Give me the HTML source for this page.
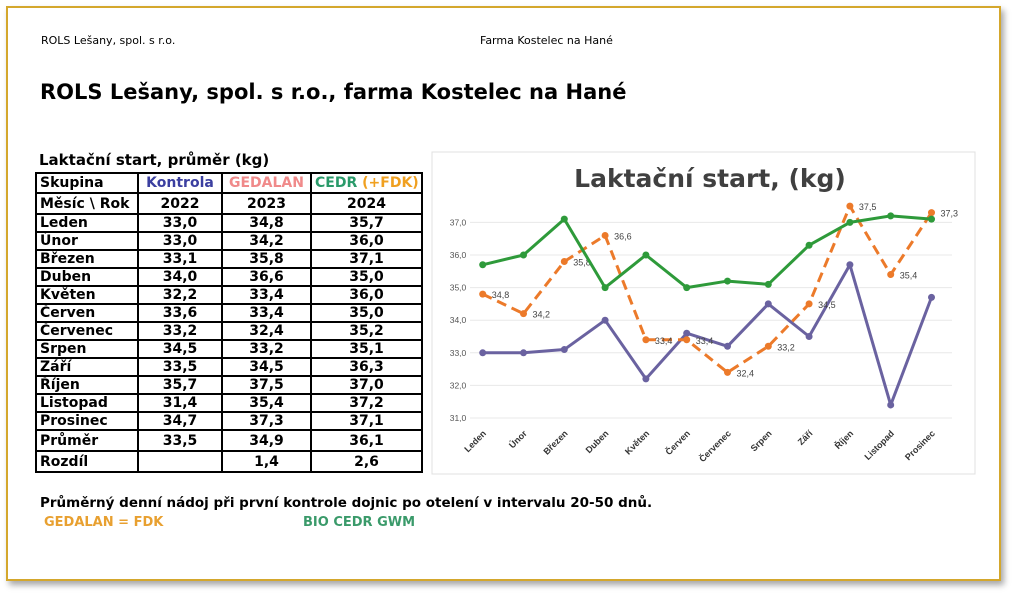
<!DOCTYPE html>
<html><head><meta charset="utf-8"><style>
body{margin:0;width:1024px;height:598px;background:#fff;position:relative;overflow:hidden;font-family:"DejaVu Sans","Liberation Sans",sans-serif;}
.frame{position:absolute;left:6px;top:6px;width:995px;height:575px;border:2px solid #d4a72c;box-shadow:3px 4px 6px rgba(0,0,0,0.35);box-sizing:border-box;}
.t{position:absolute;white-space:nowrap;}
table{position:absolute;left:35px;top:172px;width:386px;table-layout:fixed;border-collapse:collapse;border:2px solid #000;font-family:"DejaVu Sans","Liberation Sans",sans-serif;font-weight:bold;font-size:14px;}
td{border:2px solid #000;padding:0 3px;height:14px;line-height:14px;text-align:center;overflow:hidden;white-space:nowrap;}
td:first-child{text-align:left;}
</style></head><body>
<div class="frame"></div>
<div class="t" style="left:41px;top:34px;font-size:11px;">ROLS Lešany, spol. s r.o.</div>
<div class="t" style="left:480px;top:34px;font-size:11px;">Farma Kostelec na Hané</div>
<div class="t" style="left:40px;top:80px;font-size:21px;font-weight:bold;">ROLS Lešany, spol. s r.o., farma Kostelec na Hané</div>
<div class="t" style="left:39px;top:151px;font-size:15px;font-weight:bold;">Laktační start, průměr (kg)</div>
<table>
<colgroup><col style="width:102px"><col style="width:84px"><col style="width:89px"><col style="width:111px"></colgroup>
<tr style="height:20px"><td>Skupina</td><td style="color:#3b3fa0">Kontrola</td><td style="color:#f08a8a">GEDALAN</td><td><span style="color:#2a9a6a">CEDR</span> <span style="color:#f0a020">(+FDK)</span></td></tr>
<tr style="height:21px"><td>Měsíc \ Rok</td><td>2022</td><td>2023</td><td>2024</td></tr>
<tr style="height:18px"><td>Leden</td><td>33,0</td><td>34,8</td><td>35,7</td></tr>
<tr style="height:18px"><td>Únor</td><td>33,0</td><td>34,2</td><td>36,0</td></tr>
<tr style="height:18px"><td>Březen</td><td>33,1</td><td>35,8</td><td>37,1</td></tr>
<tr style="height:18px"><td>Duben</td><td>34,0</td><td>36,6</td><td>35,0</td></tr>
<tr style="height:18px"><td>Květen</td><td>32,2</td><td>33,4</td><td>36,0</td></tr>
<tr style="height:18px"><td>Červen</td><td>33,6</td><td>33,4</td><td>35,0</td></tr>
<tr style="height:18px"><td>Červenec</td><td>33,2</td><td>32,4</td><td>35,2</td></tr>
<tr style="height:18px"><td>Srpen</td><td>34,5</td><td>33,2</td><td>35,1</td></tr>
<tr style="height:18px"><td>Září</td><td>33,5</td><td>34,5</td><td>36,3</td></tr>
<tr style="height:18px"><td>Říjen</td><td>35,7</td><td>37,5</td><td>37,0</td></tr>
<tr style="height:18px"><td>Listopad</td><td>31,4</td><td>35,4</td><td>37,2</td></tr>
<tr style="height:18px"><td>Prosinec</td><td>34,7</td><td>37,3</td><td>37,1</td></tr>
<tr style="height:21px"><td>Průměr</td><td>33,5</td><td>34,9</td><td>36,1</td></tr>
<tr style="height:21px"><td>Rozdíl</td><td></td><td>1,4</td><td>2,6</td></tr>
</table>
<div class="t" style="left:40px;top:495px;font-size:13.5px;font-weight:bold;">Průměrný denní nádoj při první kontrole dojnic po otelení v intervalu 20-50 dnů.</div>
<div class="t" style="left:44px;top:515px;font-size:13px;font-weight:bold;color:#e8a030;">GEDALAN = FDK</div>
<div class="t" style="left:303px;top:515px;font-size:13px;font-weight:bold;color:#3a9a6a;">BIO CEDR GWM</div>
<svg id="chart" width="1024" height="598" style="position:absolute;left:0;top:0"></svg>
<script>
const months=["Leden","Únor","Březen","Duben","Květen","Červen","Červenec","Srpen","Září","Říjen","Listopad","Prosinec"];
const kontrola=[33.0,33.0,33.1,34.0,32.2,33.6,33.2,34.5,33.5,35.7,31.4,34.7];
const gedalan=[34.8,34.2,35.8,36.6,33.4,33.4,32.4,33.2,34.5,37.5,35.4,37.3];
const cedr=[35.7,36.0,37.1,35.0,36.0,35.0,35.2,35.1,36.3,37.0,37.2,37.1];
const yTicks=[31,32,33,34,35,36,37];
const NS="http://www.w3.org/2000/svg";
const svg=document.getElementById('chart');
function X(i){return 482.7+i*40.8;}
function Y(v){return 418-(v-31)*32.6;}
function mk(tag,attrs){const e=document.createElementNS(NS,tag);for(const k in attrs)e.setAttribute(k,attrs[k]);svg.appendChild(e);return e;}
const box=mk('rect',{x:432,y:152,width:543,height:322,fill:'#fff',stroke:'#e0e0e0'});


const ttl=mk('text',{x:710,y:187,'text-anchor':'middle','font-size':25,'font-weight':'bold',fill:'#404040','font-family':'"DejaVu Sans",sans-serif'});
ttl.textContent='Laktační start, (kg)';


yTicks.forEach(v=>{
 const g=mk('line',{x1:470,x2:952,y1:Y(v),y2:Y(v),stroke:'#e8e8e8'});
 
 
 const t=mk('text',{x:458,y:Y(v)+3,'text-anchor':'middle','font-size':8.5,fill:'#555','font-family':'"Liberation Sans",sans-serif'});
 t.textContent=v.toFixed(1).replace('.',',');
 
 
});
months.forEach((m,i)=>{
 const t=mk('text',{x:X(i)+4,y:434,'text-anchor':'end','font-size':9,'font-weight':'bold',fill:'#333','font-family':'"Liberation Sans",sans-serif',transform:`rotate(-45 ${X(i)+4} 434)`});
 t.textContent=m;
 
 
});
function series(data,color,dash,name,labels){
 const p=mk('polyline',{points:data.map((v,i)=>X(i)+','+Y(v)).join(' '),fill:'none',stroke:color,'stroke-width':3,'stroke-dasharray':dash||'none','stroke-linejoin':'round'});
 
 
 data.forEach((v,i)=>{
  const c=mk('circle',{cx:X(i),cy:Y(v),r:3.5,fill:color});
  
  
  if(labels){
   const t=mk('text',{x:X(i)+9,y:Y(v)+4,'font-size':9,fill:'#444','font-family':'"Liberation Sans",sans-serif'});
   t.textContent=v.toFixed(1).replace('.',',');
   
   
  }
 });
}
series(kontrola,'#6a62a0',null,'kontrola',false);
series(gedalan,'#ec7a2a','10,6','gedalan',true);
series(cedr,'#2e9a3a',null,'cedr',false);
</script>
</body></html>
